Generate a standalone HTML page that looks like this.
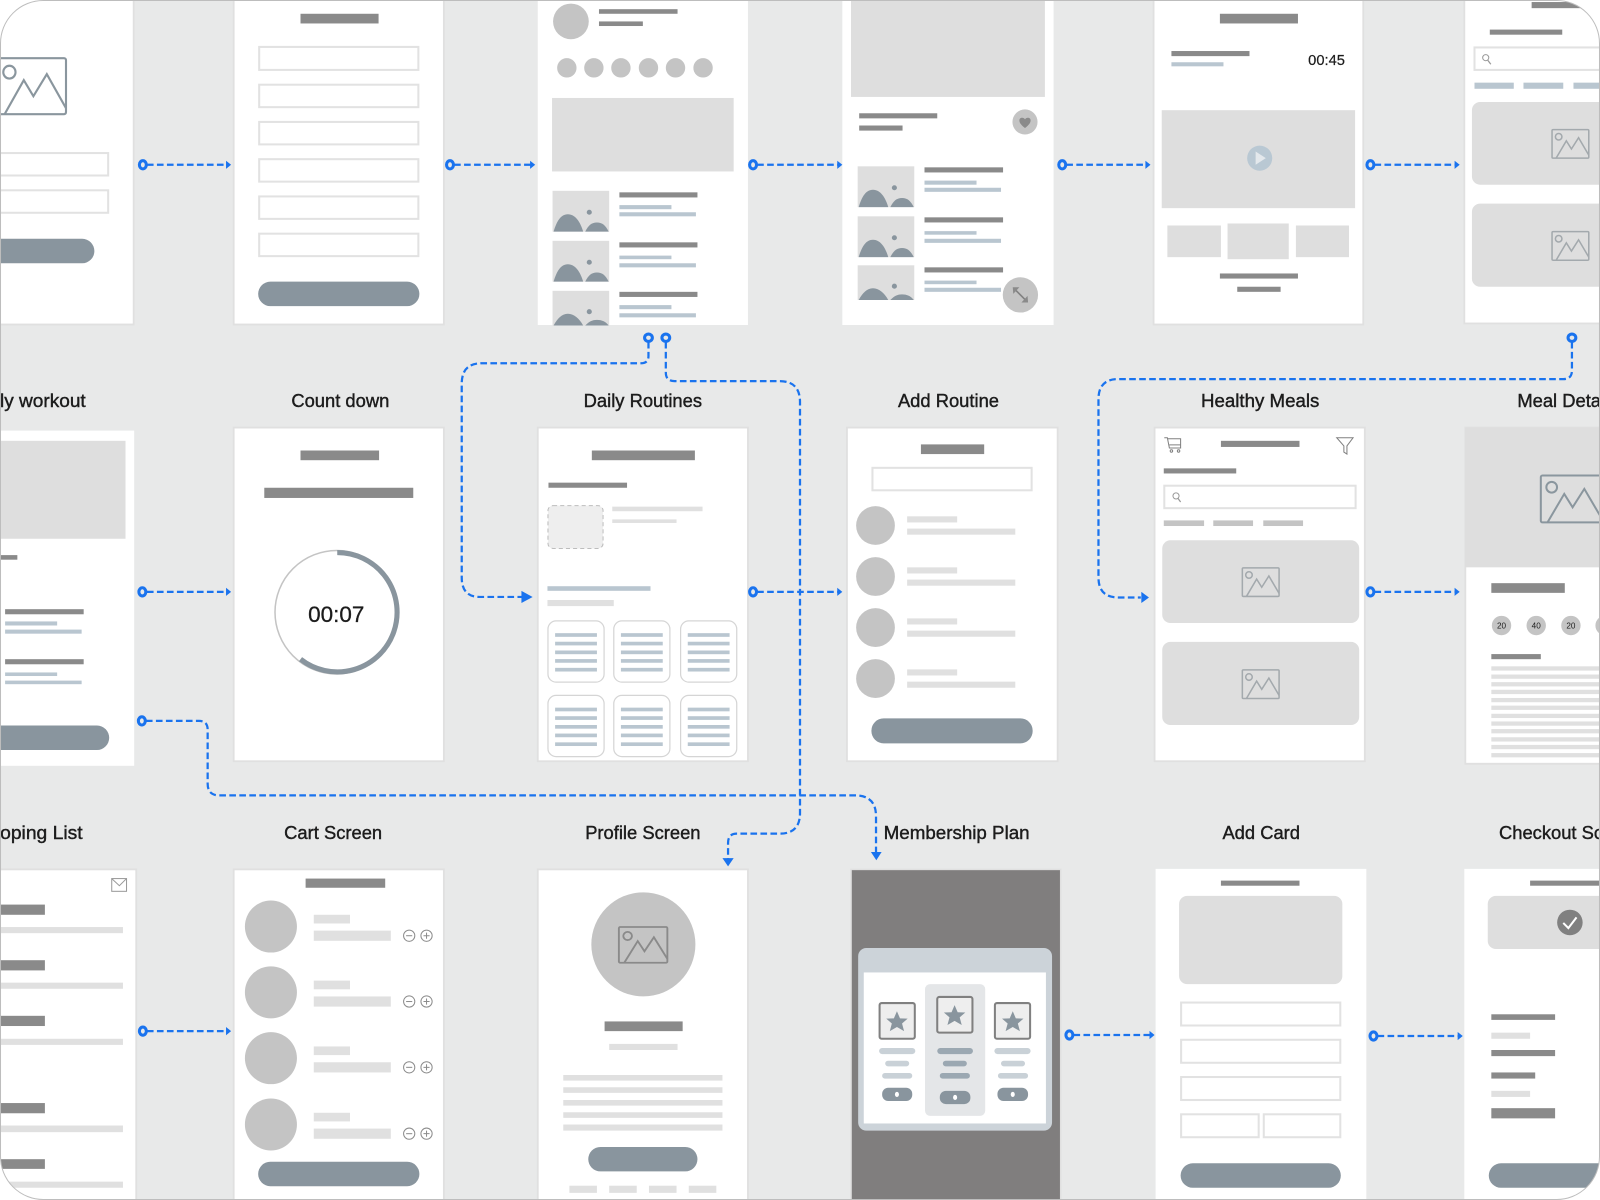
<!DOCTYPE html>
<html><head><meta charset="utf-8"><style>
html,body{margin:0;padding:0;background:#fff}
svg{display:block}
.s{fill:#fff;stroke:#e0e0e0;stroke-width:1.8}
.w{fill:#fff}
.d{fill:#8a8a8a}
.b{fill:#b9c6d0}
.l{fill:#e0e0e0}
.g{fill:#dedede}
.c{fill:#c4c4c4}
.p{fill:#89959e}
.i{fill:#fff;stroke:#e2e2e2;stroke-width:2}
.k{fill:none;stroke:#1a73ee;stroke-width:2.2;stroke-dasharray:6.5 3.3}
.o{fill:#e8e9e9;stroke:#1a73ee;stroke-width:3}
.a{fill:#1a73ee}
text{font-family:"Liberation Sans",sans-serif;fill:#1c1c1c}
.t{font-size:18px;stroke:#1c1c1c;stroke-width:.4;text-anchor:middle}
</style></head><body>
<svg xmlns="http://www.w3.org/2000/svg" width="1600" height="1200" viewBox="0 0 1568 1176">
<defs>
<g id="im" fill="none"><rect x="0" y="0" width="36" height="28" rx="1"/><circle cx="6.500" cy="7" r="3.200"/><polyline points="4,28 14,11 19,19 26,8 36,25"/></g>
<g id="th"><rect width="55.500" height="40" fill="#dedede"/><path d="M1 40C4 30 8 23 15 23C22 23 27 30 30 40Z" fill="#89959e"/><path d="M32 40C35 34 38 31 43.500 31C49 31 52 34 55 40Z" fill="#89959e"/><circle cx="36" cy="21" r="2.500" fill="#89959e"/></g>
<g id="th2"><rect width="55.500" height="34" fill="#dedede"/><path d="M1 34C5 27 9 22.500 15 22.500C21 22.500 26 27 30 34Z" fill="#89959e"/><path d="M32 34C36 30 39 28.500 43.500 28.500C48 28.500 52 30 55 34Z" fill="#89959e"/><circle cx="36" cy="20.500" r="2.500" fill="#89959e"/></g>
<path id="st" d="M0-10 3-3 10.500-2.800 5 2 7 9.500 0 5.500-7 9.500-5 2-10.500-2.800-3-3Z" fill="#89959e"/>
<g id="card"><rect width="55" height="60" rx="8" fill="#fff" stroke="#d5d5d5" stroke-width="1.200"/><g fill="#b9c6d0"><rect x="7" y="12" width="41" height="3.600"/><rect x="7" y="20.400" width="41" height="3.600"/><rect x="7" y="29" width="41" height="3.600"/><rect x="7" y="37.400" width="41" height="3.600"/><rect x="7" y="46" width="41" height="3.600"/></g></g>
<g id="pm" fill="none" stroke="#8c8c8c" stroke-width="1"><circle cx="0" cy="0" r="5.500"/><path d="M-3 0H3"/><circle cx="17" cy="0" r="5.500"/><path d="M14 0H20M17-3V3"/></g>
<g id="cart"><circle cx="0" cy="0" r="25.500" fill="#c4c4c4"/><rect x="42" y="-11.500" width="35.500" height="8.500" fill="#e0e0e0"/><rect x="42" y="4" width="75.500" height="10" fill="#e0e0e0"/><use href="#pm" x="135.500" y="9"/></g>
<g id="rl"><circle cx="0" cy="0" r="19" fill="#c4c4c4"/><rect x="31" y="-9" width="49" height="6" fill="#e0e0e0"/><rect x="31" y="3" width="106" height="6" fill="#e0e0e0"/></g>
</defs>
<rect width="1568" height="1176" fill="#e8e9e9"/>

<!-- ROW 1 -->
<rect class="s" x="-3" y="-3" width="134" height="321"/>
<use href="#im" transform="translate(-3,57) scale(1.88,1.96)" stroke="#8a969e" stroke-width="1.100"/>
<rect class="i" x="-3" y="150" width="109" height="22"/><rect class="i" x="-3" y="186.500" width="109" height="22"/>
<rect class="p" x="-20" y="234" width="112.500" height="24" rx="12"/>

<rect class="s" x="229" y="-3" width="206" height="321"/>
<rect class="d" x="294.500" y="13.500" width="76.500" height="9.500"/>
<rect class="i" x="254" y="46" width="156" height="22.500"/><rect class="i" x="254" y="83" width="156" height="22"/><rect class="i" x="254" y="119.500" width="156" height="22"/><rect class="i" x="254" y="156" width="156" height="22"/><rect class="i" x="254" y="192.500" width="156" height="22"/><rect class="i" x="254" y="229" width="156" height="22"/>
<rect class="p" x="253" y="276" width="158" height="24" rx="12"/>

<rect class="w" x="527" y="-3" width="206" height="321.500"/>
<circle class="c" cx="559.500" cy="21" r="17.500"/>
<rect class="d" x="587" y="9" width="77" height="4.500"/><rect class="d" x="587" y="21" width="43" height="4.500"/>
<circle class="c" cx="555.500" cy="66.500" r="9.500"/><circle class="c" cx="582" cy="66.500" r="9.500"/><circle class="c" cx="608.500" cy="66.500" r="9.500"/><circle class="c" cx="635.500" cy="66.500" r="9.500"/><circle class="c" cx="662" cy="66.500" r="9.500"/><circle class="c" cx="689" cy="66.500" r="9.500"/>
<rect class="g" x="541" y="96" width="178" height="72"/>
<use href="#th" x="541.500" y="187"/><use href="#th" x="541.500" y="236"/><use href="#th2" x="541.500" y="285"/>
<rect class="d" x="607" y="188.500" width="76.500" height="5"/><rect class="b" x="607" y="201" width="51" height="4"/><rect class="b" x="607" y="208" width="75" height="4"/>
<rect class="d" x="607" y="237.500" width="76.500" height="5"/><rect class="b" x="607" y="250.500" width="51" height="3.500"/><rect class="b" x="607" y="258" width="75" height="4"/>
<rect class="d" x="607" y="286" width="76.500" height="5"/><rect class="b" x="607" y="299" width="51" height="4"/><rect class="b" x="607" y="307" width="75" height="4"/>

<rect class="w" x="825.500" y="-3" width="207" height="321.500"/>
<rect class="g" x="834" y="-3" width="190" height="98"/>
<rect class="d" x="842" y="111" width="76.500" height="5"/><rect class="d" x="842" y="123" width="42.500" height="5"/>
<circle class="c" cx="1004.500" cy="119.500" r="12.300"/>
<path class="d" d="M1004.500 125.500C1000 122 999 120 999 118C999 115 1003 114.500 1004.500 117C1006 114.500 1010 115 1010 118C1010 120 1009 122 1004.500 125.500Z"/>
<use href="#th" x="840.500" y="163"/><use href="#th" x="840.500" y="212"/><use href="#th2" x="840.500" y="260"/>
<rect class="d" x="906" y="164" width="77" height="5"/><rect class="b" x="906" y="177" width="51" height="4"/><rect class="b" x="906" y="184" width="75" height="4"/>
<rect class="d" x="906" y="213" width="77" height="5"/><rect class="b" x="906" y="226.500" width="51" height="3.500"/><rect class="b" x="906" y="234" width="75" height="4"/>
<rect class="d" x="906" y="262" width="77" height="5"/><rect class="b" x="906" y="275" width="51" height="3.500"/><rect class="b" x="906" y="282" width="75" height="4"/>
<circle class="c" cx="1000" cy="289" r="17.300"/>
<g fill="none" stroke="#808080" stroke-width="1.600"><path d="M994 283 1006 295"/></g><path class="d" d="M992.500 281.500H999L993 288ZM1007.500 296.500H1001L1007 290Z"/>

<rect class="s" x="1130.500" y="-3" width="205.500" height="321"/>
<rect class="d" x="1195.500" y="13.500" width="76.500" height="9.500"/>
<rect class="d" x="1148" y="50" width="76.500" height="5"/><rect class="b" x="1148" y="61" width="51" height="4"/>
<text x="1282" y="63.500" font-size="14.400" stroke="#1c1c1c" stroke-width=".2">00:45</text>
<rect class="g" x="1138.500" y="108" width="189.500" height="96"/>
<circle cx="1234.500" cy="155" r="12.300" fill="#b9c8d3"/><path d="M1230.500 148.500 1240.500 155 1230.500 161.500Z" fill="#e3e8ec"/>
<rect class="g" x="1144" y="221" width="52.500" height="31"/><rect class="g" x="1203" y="219" width="60" height="35"/><rect class="g" x="1270" y="221" width="52" height="31"/>
<rect class="d" x="1195.500" y="268" width="76.500" height="5"/><rect class="d" x="1212.500" y="281" width="42.500" height="5"/>

<rect class="s" x="1435" y="-3" width="140" height="320"/>
<rect class="d" x="1501" y="2" width="70" height="6"/><rect class="d" x="1460" y="29" width="71" height="5"/>
<rect class="i" x="1445" y="46.500" width="130" height="22"/>
<circle cx="1456" cy="56.500" r="3" fill="none" stroke="#999" stroke-width="1"/><path d="M1458 59 1461 63" stroke="#999" stroke-width="1.200"/>
<rect class="b" x="1445" y="81" width="38.500" height="6"/><rect class="b" x="1493" y="81" width="39" height="6"/><rect class="b" x="1542" y="81" width="30" height="6"/>
<rect class="g" x="1442.500" y="100" width="140" height="81" rx="8"/><rect class="g" x="1442.500" y="199.500" width="140" height="81.500" rx="8"/>
<use href="#im" transform="translate(1521,127)" stroke="#a3a9ad" stroke-width="1.500"/><use href="#im" transform="translate(1521,227)" stroke="#a3a9ad" stroke-width="1.500"/>

<!-- ROW 2 LABELS -->
<text class="t" x="84" y="399" style="text-anchor:end" textLength="112" lengthAdjust="spacingAndGlyphs">Daily workout</text>
<text class="t" x="333.500" y="399">Count down</text>
<text class="t" x="630" y="399">Daily Routines</text>
<text class="t" x="929.500" y="399">Add Routine</text>
<text class="t" x="1235" y="399" textLength="116" lengthAdjust="spacingAndGlyphs">Healthy Meals</text>
<text class="t" x="1487" y="399" style="text-anchor:start">Meal Details</text>

<!-- ROW 2 -->
<rect class="w" x="-3" y="422" width="134.500" height="328.500"/>
<rect class="g" x="-3" y="432" width="126" height="96"/>
<rect class="d" x="-3" y="544" width="20" height="4.500"/>
<rect class="d" x="5" y="597" width="77" height="5"/><rect class="b" x="5" y="609" width="51" height="4"/><rect class="b" x="5" y="617" width="75" height="4"/>
<rect class="d" x="5" y="646" width="77" height="5"/><rect class="b" x="5" y="659" width="51" height="3.500"/><rect class="b" x="5" y="667" width="75" height="3.500"/>
<rect class="p" x="-20" y="711" width="127" height="24" rx="12"/>

<rect class="s" x="229" y="419" width="206" height="327"/>
<rect class="d" x="294.500" y="441.500" width="77" height="9.500"/>
<rect class="d" x="259" y="478" width="146" height="10"/>
<circle cx="330" cy="600" r="60.500" fill="none" stroke="#c4c4c4" stroke-width="1.500"/>
<path d="M330.500 541.500A58.500 58.500 0 1 1 294.500 646" fill="none" stroke="#89959e" stroke-width="5"/>
<text x="302" y="609.500" font-size="22" stroke="#1c1c1c" stroke-width=".3">00:07</text>

<rect class="s" x="527" y="419" width="206" height="327"/>
<rect class="d" x="580" y="441.500" width="101" height="9.500"/>
<rect class="d" x="537.500" y="473" width="77" height="5"/>
<rect x="537" y="495.500" width="54" height="42" rx="5" fill="#eeeeee" stroke="#bdbdbd" stroke-width="1" stroke-dasharray="4 3"/>
<rect class="l" x="600" y="496.500" width="88.500" height="4.500"/><rect class="l" x="600" y="509" width="63" height="3.500"/>
<rect class="b" x="536.500" y="574.500" width="101" height="4.500"/><rect class="l" x="536.500" y="588" width="65" height="6"/>
<use href="#card" x="537" y="608.500"/><use href="#card" x="601.500" y="608.500"/><use href="#card" x="667" y="608.500"/>
<use href="#card" x="537" y="681.500"/><use href="#card" x="601.500" y="681.500"/><use href="#card" x="667" y="681.500"/>

<rect class="s" x="830" y="419" width="206.500" height="327"/>
<rect class="d" x="902.500" y="435.500" width="62" height="9.500"/>
<rect class="i" x="855" y="458.500" width="156" height="22"/>
<use href="#rl" x="858" y="515"/><use href="#rl" x="858" y="565"/><use href="#rl" x="858" y="615"/><use href="#rl" x="858" y="665"/>
<rect class="p" x="854" y="704" width="158" height="24.500" rx="12"/>

<rect class="s" x="1131.500" y="419" width="206" height="327"/>
<g fill="none" stroke="#808080" stroke-width="1"><path d="M1141 429H1144L1146 439H1157V430H1144M1146 436H1157"/><circle cx="1148" cy="442" r="1.200"/><circle cx="1155" cy="442" r="1.200"/><path d="M1310 429H1326L1320 437V445L1317 443V437Z"/></g>
<rect class="d" x="1196.500" y="432" width="77" height="6"/>
<rect class="d" x="1140.500" y="459" width="71" height="5"/>
<rect class="i" x="1141" y="476" width="187.500" height="22"/>
<circle cx="1152.500" cy="486" r="3" fill="none" stroke="#999" stroke-width="1"/><path d="M1154.500 488.500 1157 492" stroke="#999" stroke-width="1.200"/>
<rect class="c" x="1140.500" y="510" width="39.500" height="5.500"/><rect class="c" x="1189" y="510" width="39" height="5.500"/><rect class="c" x="1238" y="510" width="39" height="5.500"/>
<rect class="g" x="1139" y="529.500" width="193" height="81" rx="8"/><rect class="g" x="1139" y="629" width="193" height="81.500" rx="8"/>
<use href="#im" transform="translate(1217.500,556.500)" stroke="#a3a9ad" stroke-width="1.500"/><use href="#im" transform="translate(1217.500,656.500)" stroke="#a3a9ad" stroke-width="1.500"/>

<rect class="s" x="1436" y="419" width="140" height="329.500"/>
<rect class="g" x="1436" y="419" width="140" height="137"/>
<use href="#im" transform="translate(1510,466) scale(1.64)" stroke="#8a969e" stroke-width="1.200"/>
<rect class="d" x="1461.500" y="571.500" width="72" height="9.500"/>
<circle class="c" cx="1471.500" cy="613" r="9.500"/><circle class="c" cx="1505.500" cy="613" r="9.500"/><circle class="c" cx="1539.500" cy="613" r="9.500"/><circle class="c" cx="1573" cy="613" r="9.500"/>
<g font-size="8" text-anchor="middle"><text x="1471.500" y="616">20</text><text x="1505.500" y="616">40</text><text x="1539.500" y="616">20</text></g>
<rect class="d" x="1461.500" y="641" width="48.500" height="5"/>
<g class="l"><rect x="1461.500" y="653" width="110" height="4.200"/><rect x="1461.500" y="661" width="110" height="4.200"/><rect x="1461.500" y="668.500" width="110" height="4.200"/><rect x="1461.500" y="676" width="110" height="4.200"/><rect x="1461.500" y="684" width="110" height="4.200"/><rect x="1461.500" y="691.500" width="110" height="4.200"/><rect x="1461.500" y="699.500" width="110" height="4.200"/><rect x="1461.500" y="707" width="110" height="4.200"/><rect x="1461.500" y="714.500" width="110" height="4.200"/><rect x="1461.500" y="722.500" width="110" height="4.200"/><rect x="1461.500" y="730" width="110" height="4.200"/><rect x="1461.500" y="738" width="110" height="4.200"/></g>

<!-- ROW 3 LABELS -->
<text class="t" x="81" y="822" style="text-anchor:end" textLength="104" lengthAdjust="spacingAndGlyphs">Shoping List</text>
<text class="t" x="326.500" y="822">Cart Screen</text>
<text class="t" x="630" y="822">Profile Screen</text>
<text class="t" x="866" y="822" style="text-anchor:start" textLength="143" lengthAdjust="spacingAndGlyphs">Membership Plan</text>
<text class="t" x="1236" y="822">Add Card</text>
<text class="t" x="1469" y="822" style="text-anchor:start">Checkout Screen</text>

<!-- ROW 3 -->
<rect class="s" x="-3" y="852" width="136.500" height="330"/>
<rect x="109.500" y="861" width="14.500" height="12.500" fill="#fff" stroke="#999" stroke-width="1"/><path d="M109.500 861 117 868 124 861" fill="none" stroke="#999" stroke-width="1"/>
<rect class="d" x="-3" y="886.500" width="47" height="10"/><rect class="l" x="-3" y="908.500" width="123.500" height="6"/>
<rect class="d" x="-3" y="941" width="47" height="10"/><rect class="l" x="-3" y="963" width="123.500" height="6"/>
<rect class="d" x="-3" y="995.500" width="47" height="10"/><rect class="l" x="-3" y="1018" width="123.500" height="6"/>
<rect class="d" x="-3" y="1081" width="47" height="10"/><rect class="l" x="-3" y="1103" width="123.500" height="6.500"/>
<rect class="d" x="-3" y="1136" width="47" height="9.500"/><rect class="l" x="-3" y="1158" width="123.500" height="6"/>

<rect class="s" x="229" y="852" width="206" height="330"/>
<rect class="d" x="299.500" y="861" width="78" height="9"/>
<use href="#cart" x="265.500" y="908"/><use href="#cart" x="265.500" y="972.500"/><use href="#cart" x="265.500" y="1037"/><use href="#cart" x="265.500" y="1102"/>
<rect class="p" x="253" y="1138.500" width="158" height="24" rx="12"/>

<rect class="s" x="527" y="852" width="206" height="330"/>
<circle class="c" cx="630.500" cy="925.500" r="51"/>
<use href="#im" transform="translate(606.500,908.500) scale(1.32,1.25)" stroke="#8a8a8a" stroke-width="1.400"/>
<rect class="d" x="592.500" y="1001" width="76.500" height="9.500"/>
<rect class="l" x="597" y="1023" width="67" height="6"/>
<rect class="l" x="552" y="1053.500" width="156" height="5.500"/><rect class="l" x="552" y="1065.500" width="156" height="5.500"/><rect class="l" x="552" y="1078" width="156" height="5.500"/><rect class="l" x="552" y="1090" width="156" height="5.500"/><rect class="l" x="552" y="1102" width="156" height="6"/>
<rect class="p" x="576.500" y="1124" width="107" height="24" rx="12"/>
<rect class="l" x="558" y="1162" width="27" height="7"/><rect class="l" x="597" y="1162" width="27" height="7"/><rect class="l" x="636" y="1162" width="27" height="7"/><rect class="l" x="675" y="1162" width="27" height="7"/>

<rect x="834" y="852" width="205.500" height="330" fill="#807e7e" stroke="#e0e0e0" stroke-width="1.500"/>
<rect x="841" y="929" width="190" height="179" rx="8" fill="#ccd3d9"/>
<rect class="w" x="846.500" y="953" width="178.500" height="148"/>
<rect x="906.500" y="964.500" width="59" height="129" rx="5" fill="#e4e6e8"/>
<g fill="#eeeeee" stroke="#808080" stroke-width="2"><rect x="862" y="983" width="34.500" height="35" rx="2"/><rect x="918.500" y="977" width="34.500" height="35" rx="2"/><rect x="975" y="983" width="34.500" height="35" rx="2"/></g>
<use href="#st" x="879" y="1001"/><use href="#st" x="935.500" y="995"/><use href="#st" x="992.500" y="1001"/>
<g fill="#c9d1d7"><rect x="861.500" y="1027" width="35.500" height="6" rx="3"/><rect x="867.500" y="1039.500" width="23.500" height="5.500" rx="2.700"/><rect x="864.500" y="1051.500" width="29.500" height="5.500" rx="2.700"/><rect x="974.500" y="1027" width="35.500" height="6" rx="3"/><rect x="981" y="1039.500" width="23.500" height="5.500" rx="2.700"/><rect x="978" y="1051.500" width="29.500" height="5.500" rx="2.700"/></g>
<g fill="#9ba8b2"><rect x="918.500" y="1027" width="35" height="6" rx="3"/><rect x="924" y="1039.500" width="23.500" height="5.500" rx="2.700"/><rect x="921" y="1051.500" width="29.500" height="5.500" rx="2.700"/></g>
<rect class="p" x="864.500" y="1066" width="29.500" height="13" rx="6"/><rect class="p" x="921" y="1069" width="30" height="13" rx="6"/><rect class="p" x="977.500" y="1066" width="30" height="13" rx="6"/>
<g class="w"><ellipse cx="879" cy="1072.500" rx="2" ry="2.500"/><ellipse cx="936" cy="1075.500" rx="2" ry="2.500"/><ellipse cx="992.500" cy="1072.500" rx="2" ry="2.500"/></g>

<rect class="w" x="1132.500" y="851.500" width="206.500" height="330"/>
<rect class="d" x="1196.500" y="863" width="77" height="5"/>
<rect class="g" x="1155.500" y="878" width="160" height="86.500" rx="8"/>
<rect class="i" x="1157.500" y="982.500" width="156" height="22.500"/><rect class="i" x="1157.500" y="1019" width="156" height="22.500"/><rect class="i" x="1157.500" y="1055.500" width="156" height="22.500"/>
<rect class="i" x="1157.500" y="1092" width="76" height="22.500"/><rect class="i" x="1238.500" y="1092" width="75" height="22.500"/>
<rect class="p" x="1157" y="1140" width="157" height="24" rx="12"/>

<rect class="w" x="1435" y="851.500" width="140" height="330"/>
<rect class="d" x="1499.500" y="863" width="75" height="5"/>
<rect class="g" x="1458" y="878" width="125" height="52" rx="8"/>
<circle cx="1538.500" cy="904" r="12.500" fill="#808080"/><path d="M1532 904.500 1537 909.500 1545 899" fill="none" stroke="#fff" stroke-width="2"/>
<rect class="d" x="1461.500" y="994" width="62.500" height="5.500"/><rect class="l" x="1461.500" y="1012" width="38" height="6"/><rect class="d" x="1461.500" y="1029" width="62.500" height="6"/><rect class="d" x="1461.500" y="1051" width="43" height="6"/><rect class="l" x="1461.500" y="1069" width="38" height="6"/><rect class="d" x="1461.500" y="1086" width="62.500" height="10"/>
<rect class="p" x="1459" y="1140" width="130" height="24" rx="12"/>

<!-- CONNECTORS -->
<g>
<path class="k" d="M144 161.500H222"/><path class="k" d="M445 161.500H520"/><path class="k" d="M742 161.500H821"/><path class="k" d="M1045 161.500H1123"/><path class="k" d="M1347 161.500H1426"/>
<path class="k" d="M144 580H222"/><path class="k" d="M742 580H821"/><path class="k" d="M1347 580H1426"/>
<path class="k" d="M144 1010.500H222"/><path class="k" d="M1052 1014.300H1127"/><path class="k" d="M1350 1015.300H1429"/>
<path class="k" d="M635.500 335V349Q635.500 356 628 356H472Q452.500 356 452.500 376V566Q452.500 585 470 585H512"/>
<path class="k" d="M652.500 335V365Q652.500 373.500 661 373.500H764Q784 373.500 784 394V797Q784 817 764 817H722Q713.500 817 713.500 826V842"/>
<path class="k" d="M1540.500 335V363Q1540.500 371.500 1532 371.500H1096Q1076.500 371.500 1076.500 391V566Q1076.500 585.500 1096 585.500H1118"/>
<path class="k" d="M143 706.500H195Q203.500 706.500 203.500 715V768Q203.500 779.500 215 779.500H838Q858.500 779.500 858.500 800V836"/>
<g class="a">
<path d="M221.500 157.500 226.500 161.500 221.500 165.500Z"/><path d="M519.500 157.500 524.500 161.500 519.500 165.500Z"/><path d="M820.500 157.500 825.500 161.500 820.500 165.500Z"/><path d="M1122.500 157.500 1127.500 161.500 1122.500 165.500Z"/><path d="M1425.500 157.500 1430.500 161.500 1425.500 165.500Z"/>
<path d="M221.500 576 226.500 580 221.500 584Z"/><path d="M820.500 576 825.500 580 820.500 584Z"/><path d="M1425.500 576 1430.500 580 1425.500 584Z"/>
<path d="M221.500 1006.500 226.500 1010.500 221.500 1014.500Z"/><path d="M1126.500 1010.300 1131.500 1014.300 1126.500 1018.300Z"/><path d="M1428.500 1011.300 1433.500 1015.300 1428.500 1019.300Z"/>
<path d="M511 579 522 585 511 591Z"/><path d="M1118.500 580 1126 585.500 1118.500 591Z"/><path d="M708 841 719 841 713.500 849Z"/><path d="M853.500 835 864 835 858.800 843Z"/>
</g>
<ellipse class="o" cx="140" cy="161.500" rx="3.400" ry="4"/><ellipse class="o" cx="441" cy="161.500" rx="3.400" ry="4"/><ellipse class="o" cx="738" cy="161.500" rx="3.400" ry="4"/><ellipse class="o" cx="1041" cy="161.500" rx="3.400" ry="4"/><ellipse class="o" cx="1343" cy="161.500" rx="3.400" ry="4"/>
<ellipse class="o" cx="139.500" cy="580" rx="3.400" ry="4"/><ellipse class="o" cx="738" cy="580" rx="3.400" ry="4"/><ellipse class="o" cx="1343" cy="580" rx="3.400" ry="4"/>
<ellipse class="o" cx="140" cy="1010.500" rx="3.400" ry="4"/><ellipse class="o" cx="1048" cy="1014.300" rx="3.400" ry="4"/><ellipse class="o" cx="1346" cy="1015.300" rx="3.400" ry="4"/>
<ellipse class="o" cx="139" cy="706.500" rx="3.400" ry="4"/>
<ellipse class="o" cx="635.500" cy="331" rx="3.800" ry="3.600"/><ellipse class="o" cx="652.500" cy="331" rx="3.800" ry="3.600"/><ellipse class="o" cx="1540.500" cy="331" rx="3.800" ry="3.600"/>
</g>

<!-- FRAME CORNERS -->
<path fill="#fff" fill-rule="evenodd" d="M-2-2H1570V1178H-2ZM42 .5C19 .5 .5 19 .5 42V1134C.5 1157 19 1175.500 42 1175.500H1526C1549 1175.500 1567.500 1157 1567.500 1134V42C1567.500 19 1549 .5 1526 .5Z"/>
<rect x=".5" y=".5" width="1567" height="1175" rx="42" fill="none" stroke="#bdbdbd" stroke-width="1"/>
</svg>
</body></html>
